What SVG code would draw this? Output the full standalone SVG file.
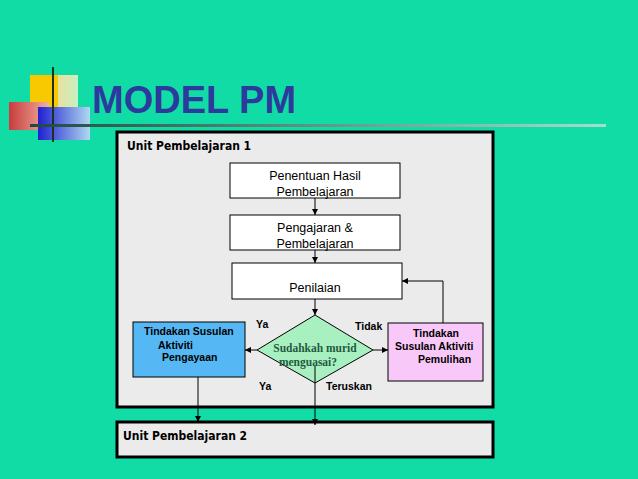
<svg xmlns="http://www.w3.org/2000/svg" width="638" height="479" viewBox="0 0 638 479">
<style>
.t{font-family:"Liberation Sans",Arial,sans-serif;font-size:12.5px;fill:#000;text-anchor:middle}
.s{font-family:"Liberation Sans",Arial,sans-serif;font-size:10.5px;font-weight:bold;fill:#000}
.u{font-family:"DejaVu Sans Condensed","DejaVu Sans",sans-serif;font-stretch:condensed;font-size:12px;font-weight:bold;fill:#000}
.b{stroke:#000;stroke-width:1}
.c{stroke:#000;stroke-width:1;fill:none;marker-end:url(#a)}
</style>
<defs>
<marker id="a" viewBox="0 0 8 8" refX="8" refY="4" markerWidth="6" markerHeight="6" orient="auto"><path d="M0,0L8,4L0,8z" fill="#000"/></marker>
<linearGradient id="gy" x1="0" x2="1"><stop offset="0" stop-color="#e8e0a0"/><stop offset="1" stop-color="#c8f0c0"/></linearGradient>
<linearGradient id="gr" x1="0" x2="1"><stop offset="0" stop-color="#c83c3c"/><stop offset="1" stop-color="#f0b0a0"/></linearGradient>
<linearGradient id="gb" x1="0" x2="1"><stop offset="0" stop-color="#2020d0"/><stop offset="1" stop-color="#b0d8f0"/></linearGradient>
<linearGradient id="gl" x1="0" x2="1"><stop offset="0" stop-color="#204a40"/><stop offset="1" stop-color="#a0e0d0"/></linearGradient>
</defs>
<rect width="638" height="479" fill="#12dca6"/>
<g id="logo">
<rect x="30" y="75" width="30" height="32" fill="#f8c800"/>
<rect x="58" y="75" width="20" height="32" fill="url(#gy)"/>
<rect x="9" y="102" width="40" height="28" fill="url(#gr)"/>
<rect x="38" y="107" width="52" height="33" fill="url(#gb)"/>
<line x1="53" y1="67" x2="53" y2="142" stroke="#203020" stroke-width="2"/>
<rect x="30" y="124" width="576" height="3" fill="url(#gl)"/>
</g>
<text x="92" y="113" font-family="Liberation Sans,Arial,sans-serif" font-size="38" font-weight="bold" fill="#2b3a9c">MODEL PM</text>
<g id="unit1"><rect x="117" y="132" width="376" height="275" fill="#ebebeb" stroke="#000" stroke-width="3"/><text class="u" x="127" y="150">Unit Pembelajaran 1</text></g>
<g id="unit2"><rect x="117" y="422" width="376" height="35" fill="#ebebeb" stroke="#000" stroke-width="3"/><text class="u" x="123" y="440">Unit Pembelajaran 2</text></g>
<g id="n1"><rect x="230" y="163" width="170" height="35" fill="#fff" class="b"/><text class="t" x="315" y="180">Penentuan Hasil</text><text class="t" x="315" y="196">Pembelajaran</text></g>
<g id="n2"><rect x="230" y="215" width="170" height="35" fill="#fff" class="b"/><text class="t" x="315" y="232">Pengajaran &amp;</text><text class="t" x="315" y="248">Pembelajaran</text></g>
<g id="n3"><rect x="232" y="263" width="170" height="36" fill="#fff" class="b"/><text class="t" x="315" y="292">Penilaian</text></g>
<g id="d"><polygon points="315,315 373,350 315,383 257,350" fill="#a8f0c0" class="b"/><text x="315" y="352" font-family="Liberation Serif,serif" font-size="11.5" font-weight="bold" fill="#245a40" text-anchor="middle">Sudahkah murid</text><text x="308" y="366" font-family="Liberation Serif,serif" font-size="11.5" font-weight="bold" fill="#245a40" text-anchor="middle">menguasai?</text></g>
<g id="nl"><rect x="133" y="322" width="112" height="55" fill="#55b8f5" class="b"/><text class="s" x="144" y="335">Tindakan Susulan</text><text class="s" x="158" y="349">Aktiviti</text><text class="s" x="162" y="361">Pengayaan</text></g>
<g id="nr"><rect x="388" y="323" width="95" height="58" fill="#f8c8f8" class="b"/><text class="s" x="413" y="337">Tindakan</text><text class="s" x="395" y="350">Susulan Aktiviti</text><text class="s" x="418" y="363">Pemulihan</text></g>
<g id="connectors">
<path class="c" d="M315,198V215"/><path class="c" d="M315,250V263"/><path class="c" d="M315,299V315"/>
<path class="c" d="M257,350H245"/><path class="c" d="M373,350H388"/>
<path class="c" d="M443,323V281H402"/>
<path class="c" d="M198,377V422"/><path class="c" d="M315,366V425"/>
</g>
<g font-family="Liberation Sans,Arial,sans-serif" font-size="10.5" font-weight="bold">
<text x="256" y="328">Ya</text><text x="355" y="330">Tidak</text><text x="259" y="390">Ya</text><text x="326" y="390">Teruskan</text>
</g>
</svg>
